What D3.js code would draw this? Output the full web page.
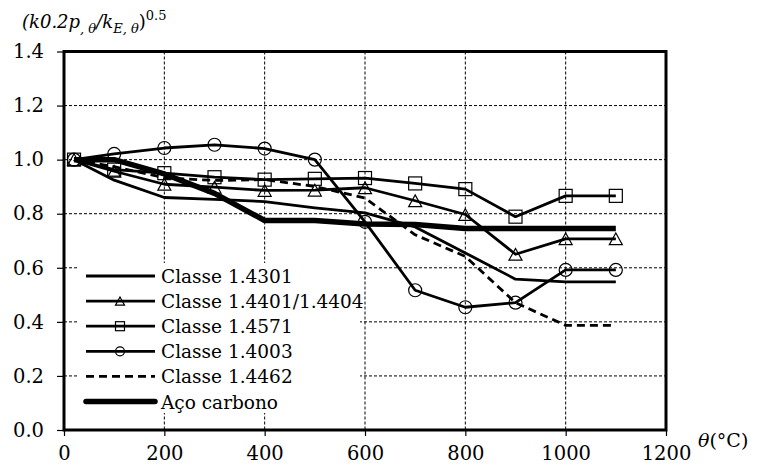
<!DOCTYPE html>
<html>
<head>
<meta charset="utf-8">
<script src="https://cdn.jsdelivr.net/npm/d3@7"></script>
<style>
  html, body { margin: 0; padding: 0; background: #fff; }
  svg { display: block; }
</style>
</head>
<body>
<svg id="chart" width="757" height="470"></svg>
<script>
// Temperatures (°C)
const temps = [20, 100, 200, 300, 400, 500, 600, 700, 800, 900, 1000, 1100];

// (k0.2p,θ / kE,θ)^0.5 per grade
const s14301 = [1.000, 0.924, 0.860, 0.853, 0.845, 0.822, 0.803, 0.751, 0.655, 0.558, 0.548, 0.548];
const s14401 = [1.000, 0.957, 0.909, 0.898, 0.886, 0.887, 0.896, 0.848, 0.797, 0.650, 0.707, 0.707];
const s14571 = [1.000, 0.963, 0.950, 0.935, 0.926, 0.929, 0.932, 0.912, 0.891, 0.789, 0.866, 0.866];
const s14003 = [1.000, 1.021, 1.043, 1.055, 1.041, 1.000, 0.770, 0.517, 0.454, 0.471, 0.592, 0.592];
const s14462 = [1.000, 0.974, 0.933, 0.923, 0.926, 0.901, 0.858, 0.722, 0.642, 0.471, 0.387, 0.387];
const sCarbon = [1.000, 1.000, 0.947, 0.875, 0.775, 0.775, 0.762, 0.760, 0.745, 0.745, 0.745, 0.745];

const seriesNames = ["Classe 1.4301", "Classe 1.4401/1.4404", "Classe 1.4571", "Classe 1.4003", "Classe 1.4462", "Aço carbono"];

const xTicks = [0, 200, 400, 600, 800, 1000, 1200];
const yTicks = [0, 0.2, 0.4, 0.6, 0.8, 1.0, 1.2, 1.4];

const series = [
  { name: seriesNames[0], values: s14301, width: 2.8, dash: null, marker: null },
  { name: seriesNames[1], values: s14401, width: 2.8, dash: null, marker: "triangle" },
  { name: seriesNames[2], values: s14571, width: 2.8, dash: null, marker: "square" },
  { name: seriesNames[3], values: s14003, width: 2.8, dash: null, marker: "circle" },
  { name: seriesNames[4], values: s14462, width: 2.8, dash: "8,5", marker: null },
  { name: seriesNames[5], values: sCarbon, width: 5.5, dash: null, marker: null }
];

const FONT = "DejaVu Serif";
const svg = d3.select("#chart").style("font-family", FONT);
const plotL = 64, plotR = 666, plotT = 51.5, plotB = 430;

const x = d3.scaleLinear().domain([0, 1200]).range([plotL, plotR]);
const y = d3.scaleLinear().domain([0, 1.4]).range([plotB, plotT]);

// dashed grid
const grid = svg.append("g");
grid.selectAll("line.v").data(xTicks.filter(t => t > 0 && t < 1200)).join("line")
  .attr("x1", d => x(d)).attr("x2", d => x(d))
  .attr("y1", plotT).attr("y2", plotB)
  .attr("stroke", "#000").attr("stroke-width", 1).attr("stroke-dasharray", "3,2");
grid.selectAll("line.h").data(yTicks.filter(t => t > 0 && t < 1.4)).join("line")
  .attr("x1", plotL).attr("x2", plotR)
  .attr("y1", d => y(d)).attr("y2", d => y(d))
  .attr("stroke", "#000").attr("stroke-width", 1).attr("stroke-dasharray", "3,2");

// axes
const xAxis = svg.append("g").attr("transform", `translate(0,${plotB})`)
  .call(d3.axisBottom(x).tickValues(xTicks).tickSize(6).tickPadding(10).tickFormat(d3.format("d")));
const yAxis = svg.append("g").attr("transform", `translate(${plotL},0)`)
  .call(d3.axisLeft(y).tickValues(yTicks).tickSize(7).tickPadding(13).tickFormat(d3.format(".1f")));
[xAxis, yAxis].forEach(a => {
  a.attr("font-family", null).attr("font-size", 19.5);
  a.select(".domain").remove();
  a.selectAll(".tick line").attr("stroke", "#000").attr("stroke-width", 1.2);
  a.selectAll(".tick text").attr("fill", "#000");
});

// plot frame
svg.append("rect").attr("x", plotL).attr("y", plotT)
  .attr("width", plotR - plotL).attr("height", plotB - plotT)
  .attr("fill", "none").attr("stroke", "#000").attr("stroke-width", 3);

// series lines
const line = d3.line().x((d, i) => x(temps[i])).y(d => y(d));
const plot = svg.append("g");
series.forEach(s => {
  plot.append("path").datum(s.values)
    .attr("d", line).attr("fill", "none").attr("stroke", "#000")
    .attr("stroke-width", s.width).attr("stroke-linejoin", "round")
    .attr("stroke-dasharray", s.dash);
});

function drawMarker(g, type, cx, cy, size) {
  if (type === "circle") {
    g.append("circle").attr("cx", cx).attr("cy", cy).attr("r", size / 2)
      .attr("fill", "none").attr("stroke", "#000").attr("stroke-width", 1.2);
  } else if (type === "square") {
    g.append("rect").attr("x", cx - size / 2).attr("y", cy - size / 2)
      .attr("width", size).attr("height", size)
      .attr("fill", "none").attr("stroke", "#000").attr("stroke-width", 1.2);
  } else if (type === "triangle") {
    const h = size * 0.9;
    g.append("path")
      .attr("d", `M${cx},${cy - h / 2}L${cx + size / 2},${cy + h / 2}L${cx - size / 2},${cy + h / 2}Z`)
      .attr("fill", "none").attr("stroke", "#000").attr("stroke-width", 1.2);
  }
}

series.filter(s => s.marker).forEach(s => {
  s.values.forEach((v, i) => drawMarker(plot, s.marker, x(temps[i]), y(v), 13));
});

// legend
const legend = svg.append("g");
legend.append("rect").attr("x", 78).attr("y", 263).attr("width", 282).attr("height", 150).attr("fill", "#fff");
series.forEach((s, i) => {
  const ly = 276 + i * 25.1;
  legend.append("line").attr("x1", 86).attr("x2", 155).attr("y1", ly).attr("y2", ly)
    .attr("stroke", "#000").attr("stroke-width", s.width)
    .attr("stroke-linecap", s.width > 4 ? "round" : "butt")
    .attr("stroke-dasharray", s.dash);
  if (s.marker) drawMarker(legend, s.marker, 120, ly, 9);
  legend.append("text").attr("x", 161).attr("y", ly + 7)
    .attr("font-size", 18.5).text(s.name);
});

// y-axis title
const title = svg.append("text").attr("x", 22).attr("y", 28)
  .attr("font-size", 18).attr("font-style", "italic");
title.append("tspan").text("(k0.2p");
title.append("tspan").attr("dy", 5).attr("font-size", 13).text(", θ");
title.append("tspan").attr("dy", -5).text("/k");
title.append("tspan").attr("dy", 5).attr("font-size", 13).text("E, θ");
title.append("tspan").attr("dy", -5).attr("font-style", "normal").text(")");
title.append("tspan").attr("dy", -8).attr("font-style", "normal").attr("font-size", 13).text("0.5");

// x-axis title
const xt = svg.append("text").attr("x", 698).attr("y", 447).attr("font-size", 19);
xt.append("tspan").attr("font-style", "italic").text("θ");
xt.append("tspan").text("(°C)");
</script>
</body>
</html>
